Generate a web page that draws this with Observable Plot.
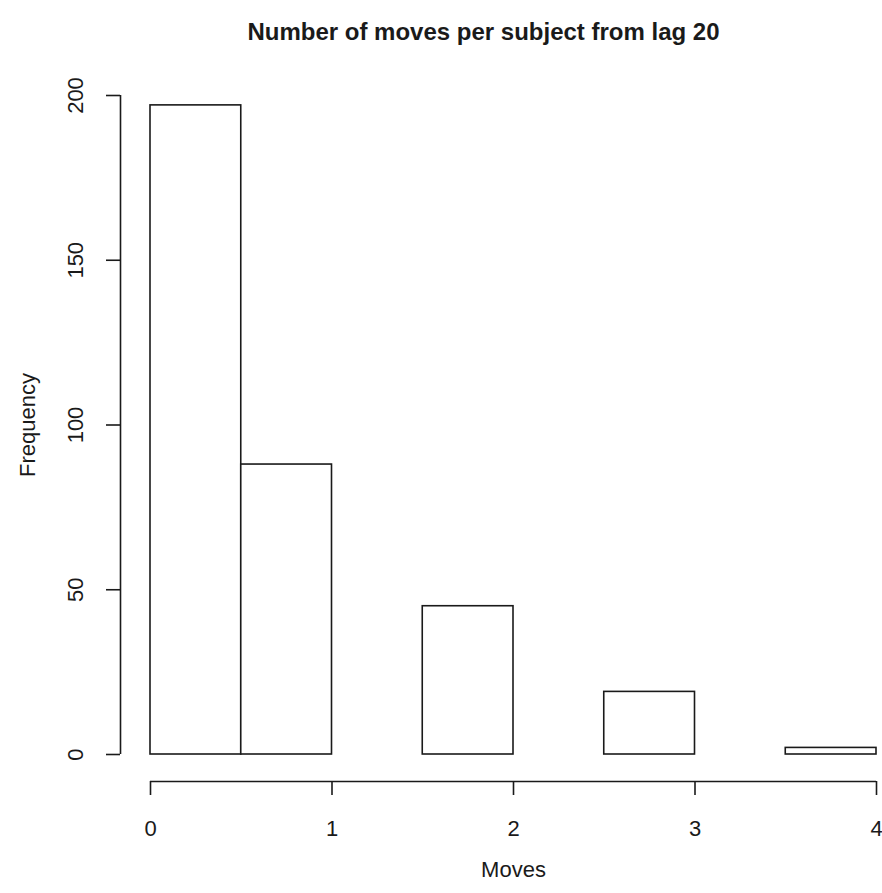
<!DOCTYPE html>
<html>
<head>
<meta charset="utf-8">
<script src="https://cdn.jsdelivr.net/npm/d3@7"></script>
<script src="https://cdn.jsdelivr.net/npm/@observablehq/plot@0.6"></script>
<style>
  body { margin: 0; background: #fff; }
  svg { display: block; }
</style>
</head>
<body>
<div id="chart"></div>
<script>
const binStart = [0, 0.5, 1, 1.5, 2, 2.5, 3, 3.5];
const binEnd   = [0.5, 1, 1.5, 2, 2.5, 3, 3.5, 4];
const counts   = [197, 88, 0, 45, 0, 19, 0, 2];
const xTicks = [0, 1, 2, 3, 4];
const yTicks = [0, 50, 100, 150, 200];
const title = "Number of moves per subject from lag 20";
const xLabel = "Moves";
const yLabel = "Frequency";

const bins = binStart.map((s, i) => ({x1: s, x2: binEnd[i], count: counts[i]}));
const ink = "#1a1a1a";
const font = "Liberation Sans, Arial, Helvetica, sans-serif";

const chart = Plot.plot({
  width: 882,
  height: 893,
  marginLeft: 150,
  marginRight: 6,
  marginTop: 95,
  marginBottom: 139,
  style: {fontFamily: font, color: ink, background: "#fff"},
  x: {domain: [0, 4]},
  y: {domain: [0, 200]},
  marks: [
    Plot.rectY(bins, {x1: "x1", x2: "x2", y: "count", fill: "white", stroke: ink, strokeWidth: 1.6, inset: 0}),
    // x axis (offset below, R style)
    Plot.ruleY([0], {x1: 0, x2: 4, dy: 27, stroke: ink, strokeWidth: 1.6}),
    Plot.axisX({ticks: xTicks, tickSize: 14, dy: 27, tickPadding: 25, fontSize: 22, label: null, stroke: ink, strokeWidth: 1.6, tickFormat: d => String(d)}),
    // y axis
    Plot.ruleX([0], {y1: 0, y2: 200, dx: -30, stroke: ink, strokeWidth: 1.6}),
    Plot.axisY({ticks: yTicks, tickSize: 14, dx: -30, tickPadding: 24, tickRotate: -90, fontSize: 22, label: null, stroke: ink, strokeWidth: 1.6, tickFormat: d => String(d)}),
    // titles
    Plot.text([title], {frameAnchor: "top", dx: -30, dy: -73, fontSize: 24, fontWeight: "bold", fill: ink}),
    Plot.text([xLabel], {frameAnchor: "bottom", dy: 122, fontSize: 22, fill: ink}),
    Plot.text([yLabel], {frameAnchor: "left", textAnchor: "middle", dx: -123, rotate: -90, fontSize: 22, fill: ink})
  ]
});
document.getElementById("chart").appendChild(chart);
</script>
</body>
</html>
